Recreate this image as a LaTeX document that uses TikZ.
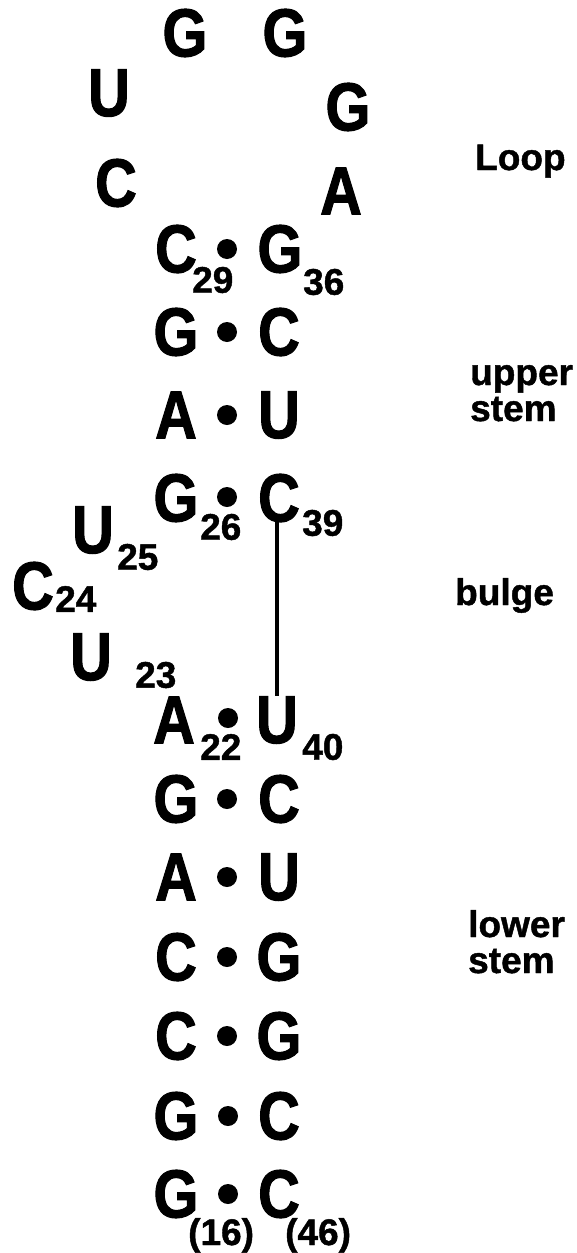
\documentclass[tikz,border=0pt]{standalone}
\usepackage{fontspec}
\newfontfamily\basefont[FakeStretch=0.85,FakeBold=1.5]{Liberation Sans}
\newfontfamily\plainfont[FakeBold=1.2]{Liberation Sans}
\begin{document}
\begin{tikzpicture}[x=1pt,y=-1pt,
  base/.style={inner sep=0pt, font=\basefont\bfseries\fontsize{68}{72}\selectfont},
  sub/.style={inner sep=0pt, anchor=west, font=\plainfont\bfseries\fontsize{37}{40}\selectfont},
  subb/.style={inner sep=0pt, anchor=base west, font=\plainfont\bfseries\fontsize{37}{40}\selectfont},
  lab/.style={inner sep=0pt, anchor=base west, font=\plainfont\bfseries\fontsize{37}{40}\selectfont},
  bp/.style={circle, fill=black, minimum size=20pt, inner sep=0pt},
  link/.style={line width=3.5pt}]
\useasboundingbox (0,0) rectangle (576,1253);
% loop
\node[base] (l1) at (185,33) {G};
\node[base] (l2) at (285,33) {G};
\node[base] (l0) at (109,93) {U};
\node[base] (l3) at (348,107) {G};
\node[base] (lm) at (116,183) {C};
\node[base] (l4) at (341,191) {A};
% upper stem
\node[base] (c29) at (176,249) {C};
\node[bp]   (d1)  at (227,249) {};
\node[base] (g36) at (280,249) {G};
\node[sub]  (s29) at (192,280) {29};
\node[sub]  (s36) at (303,282) {36};
\node[base] (g28) at (176,332) {G};
\node[bp]   (d2)  at (227,332) {};
\node[base] (c37) at (279,332) {C};
\node[base] (a27) at (176,415) {A};
\node[bp]   (d3)  at (227,415) {};
\node[base] (u38) at (279,415) {U};
\node[base] (g26) at (176,498) {G};
\node[bp]   (d4)  at (227,497) {};
\node[base] (c39) at (279,498) {C};
\node[sub]  (s26) at (200,527) {26};
\node[sub]  (s39) at (302,523) {39};
% bulge
\node[base] (u25) at (93,530) {U};
\node[sub]  (s25) at (117,557) {25};
\node[base] (c24) at (33,586) {C};
\node[sub]  (s24) at (55,599) {24};
\node[base] (u23) at (91,657) {U};
\node[sub]  (s23) at (135,675) {23};
% lower stem
\node[base] (a22) at (174,720) {A};
\node[bp]   (d5)  at (228,718) {};
\node[base] (u40) at (277,720) {U};
\node[sub]  (s22) at (200,747) {22};
\node[sub]  (s40) at (302,747) {40};
\node[base] (g21) at (176,799) {G};
\node[bp]   (d6)  at (227,799) {};
\node[base] (c41) at (279,799) {C};
\node[base] (a20) at (176,877) {A};
\node[bp]   (d7)  at (227,877) {};
\node[base] (u42) at (279,877) {U};
\node[base] (c19) at (176,957) {C};
\node[bp]   (d8)  at (227,957) {};
\node[base] (g43) at (279,957) {G};
\node[base] (c18) at (176,1036) {C};
\node[bp]   (d9)  at (227,1036) {};
\node[base] (g44) at (279,1036) {G};
\node[base] (g17) at (176,1116) {G};
\node[bp]   (d10) at (228,1116) {};
\node[base] (c45) at (279,1116) {C};
\node[base] (g16) at (176,1194) {G};
\node[bp]   (d11) at (228,1194) {};
\node[base] (c46) at (279,1194) {C};
\node[subb] (s16) at (188,1245) {(16)};
\node[subb] (s46) at (285,1245) {(46)};
% long-range link
\draw[link] (277,522) -- (u40.north);
% region labels
\node[lab] (tloop) at (475,170) {Loop};
\node[lab] (tup1) at (470,385) {upper};
\node[lab] (tup2) at (470,421) {stem};
\node[lab] (tbul) at (455,605) {bulge};
\node[lab] (tlo1) at (468,937) {lower};
\node[lab] (tlo2) at (468,973) {stem};
\end{tikzpicture}
\end{document}
